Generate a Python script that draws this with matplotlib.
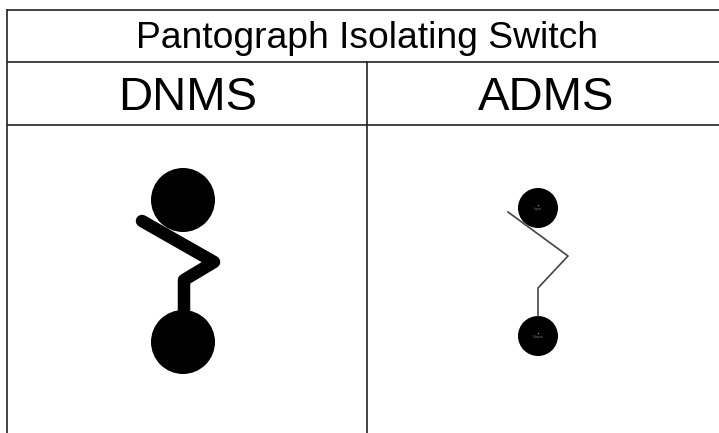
# plot.py
import matplotlib
matplotlib.use('Agg')
import matplotlib.pyplot as plt
from matplotlib.patches import Circle

title = 'Pantograph Isolating Switch'
columns = ['DNMS', 'ADMS']
column_x = [187.5, 546]

# switch symbol, in picture pixels
dnms_circles_x = [183, 183]
dnms_circles_y = [200, 342]
dnms_radius = 32
dnms_arm_x = [142, 214, 184, 184]
dnms_arm_y = [221, 262, 280, 313]

adms_circles_x = [538, 538]
adms_circles_y = [208, 336]
adms_radius = 20
adms_arm_x = [508, 568, 538, 538]
adms_arm_y = [212, 256, 288, 316]
adms_labels = ['Input', 'Output']

plt.rcParams['font.family'] = ['Liberation Sans', 'DejaVu Sans']

fig = plt.figure(figsize=(7.19, 4.33), dpi=100)
ax = fig.add_axes([0, 0, 1, 1])
ax.set_xlim(0, 719)
ax.set_ylim(433, 0)
ax.axis('off')

# table grid, open on the right and at the bottom
grid = dict(color='#222222', lw=1.2, solid_capstyle='butt')
ax.plot([7, 719], [9.5, 9.5], **grid)
ax.plot([7, 719], [61.5, 61.5], **grid)
ax.plot([7, 719], [125, 125], **grid)
ax.plot([7, 7], [9, 433], **grid)
ax.plot([367, 367], [61, 433], **grid)

ax.text(367.5, 38, title, fontsize=26.8, ha='center', va='center', color='black')
for x, name in zip(column_x, columns):
    ax.text(x, 98, name, fontsize=34, ha='center', va='center', color='black')

# DNMS symbol
for x, y in zip(dnms_circles_x, dnms_circles_y):
    ax.add_patch(Circle((x, y), dnms_radius, color='black', lw=0))
ax.plot(dnms_arm_x, dnms_arm_y, color='black', lw=9,
        solid_capstyle='round', solid_joinstyle='round')

# ADMS symbol
for x, y, label in zip(adms_circles_x, adms_circles_y, adms_labels):
    ax.add_patch(Circle((x, y), adms_radius, color='black', lw=0))
    ax.plot([x], [y - 3], marker='o', ms=1, color='#888888', mew=0)
    ax.text(x, y + 1, label, fontsize=2.5, ha='center', va='center', color='#777777')
ax.plot(adms_arm_x, adms_arm_y, color='#444444', lw=1.2, solid_joinstyle='round')

fig.savefig('out.png', dpi=100)
